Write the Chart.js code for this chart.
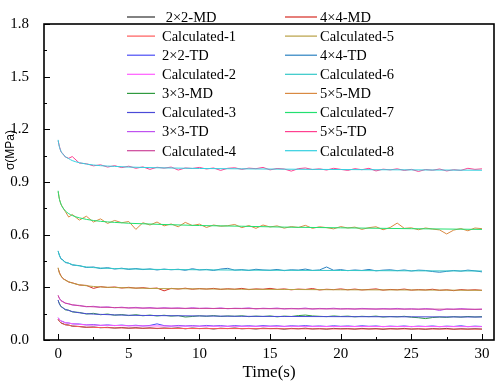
<!DOCTYPE html>
<html>
<head>
<meta charset="utf-8">
<script src="https://cdn.jsdelivr.net/npm/chart.js@4.4.0/dist/chart.umd.min.js"></script>
<style>
html, body { margin: 0; padding: 0; background: #fff; }
</style>
</head>
<body>
<canvas id="relaxChart" width="498" height="383"></canvas>
<script>
// time axis of the measured curves and of the calculated (fitted) curves
const tMeas = [0, 0.1, 0.2, 0.35, 0.5, 0.75, 1, 1.5, 2, 2.5, 3, 3.5, 4, 4.5, 5, 5.5, 6, 6.5, 7, 7.5, 8, 8.5, 9, 9.5, 10, 10.5, 11, 11.5, 12, 12.5, 13, 13.5, 14, 14.5, 15, 15.5, 16, 16.5, 17, 17.5, 18, 18.5, 19, 19.5, 20, 20.5, 21, 21.5, 22, 22.5, 23, 23.5, 24, 24.5, 25, 25.5, 26, 26.5, 27, 27.5, 28, 28.5, 29, 29.5, 30];
const tCalc = [0, 0.05, 0.1, 0.2, 0.3, 0.5, 0.75, 1, 1.5, 2, 3, 4, 5, 7, 10, 13, 16, 20, 25, 30];

const xTicks = [0, 5, 10, 15, 20, 25, 30];
const yTicks = [0.0, 0.3, 0.6, 0.9, 1.2, 1.5, 1.8];

// measured stress (MPa)
const md2 = [0.117, 0.106, 0.097, 0.093, 0.087, 0.085, 0.079, 0.077, 0.072, 0.074, 0.070, 0.072, 0.068, 0.071, 0.067, 0.070, 0.066, 0.069, 0.065, 0.068, 0.066, 0.069, 0.064, 0.068, 0.065, 0.067, 0.063, 0.067, 0.065, 0.068, 0.064, 0.066, 0.063, 0.067, 0.065, 0.066, 0.062, 0.066, 0.064, 0.067, 0.063, 0.065, 0.062, 0.066, 0.064, 0.065, 0.062, 0.066, 0.063, 0.065, 0.061, 0.065, 0.063, 0.066, 0.062, 0.064, 0.061, 0.065, 0.063, 0.066, 0.061, 0.064, 0.062, 0.064, 0.062];
const td2 = [0.126, 0.117, 0.108, 0.105, 0.098, 0.097, 0.092, 0.091, 0.086, 0.088, 0.083, 0.086, 0.082, 0.085, 0.081, 0.084, 0.080, 0.083, 0.092, 0.082, 0.079, 0.083, 0.080, 0.082, 0.079, 0.083, 0.080, 0.082, 0.078, 0.082, 0.079, 0.081, 0.078, 0.082, 0.079, 0.081, 0.077, 0.081, 0.079, 0.082, 0.078, 0.080, 0.077, 0.081, 0.078, 0.080, 0.077, 0.081, 0.078, 0.080, 0.076, 0.079, 0.077, 0.080, 0.076, 0.079, 0.077, 0.080, 0.076, 0.079, 0.077, 0.081, 0.076, 0.079, 0.077];
const md3 = [0.225, 0.206, 0.190, 0.184, 0.172, 0.170, 0.160, 0.157, 0.148, 0.152, 0.144, 0.148, 0.141, 0.145, 0.139, 0.144, 0.138, 0.142, 0.137, 0.141, 0.136, 0.139, 0.131, 0.134, 0.138, 0.135, 0.139, 0.134, 0.137, 0.135, 0.138, 0.133, 0.136, 0.134, 0.137, 0.132, 0.136, 0.134, 0.139, 0.142, 0.137, 0.135, 0.133, 0.137, 0.134, 0.136, 0.132, 0.135, 0.133, 0.136, 0.131, 0.134, 0.132, 0.135, 0.130, 0.127, 0.122, 0.128, 0.131, 0.129, 0.133, 0.130, 0.134, 0.131, 0.133];
const td3 = [0.252, 0.237, 0.224, 0.219, 0.209, 0.207, 0.199, 0.197, 0.189, 0.192, 0.186, 0.189, 0.183, 0.187, 0.182, 0.186, 0.181, 0.185, 0.180, 0.184, 0.181, 0.183, 0.179, 0.184, 0.180, 0.182, 0.179, 0.183, 0.178, 0.181, 0.180, 0.183, 0.177, 0.181, 0.179, 0.182, 0.177, 0.180, 0.178, 0.182, 0.176, 0.180, 0.178, 0.181, 0.177, 0.179, 0.176, 0.180, 0.178, 0.176, 0.179, 0.177, 0.180, 0.176, 0.178, 0.175, 0.179, 0.176, 0.168, 0.177, 0.175, 0.179, 0.176, 0.174, 0.176];
const md4 = [0.408, 0.382, 0.366, 0.349, 0.343, 0.330, 0.326, 0.313, 0.311, 0.294, 0.304, 0.299, 0.302, 0.296, 0.300, 0.295, 0.298, 0.293, 0.296, 0.280, 0.294, 0.290, 0.295, 0.289, 0.293, 0.290, 0.294, 0.288, 0.292, 0.289, 0.294, 0.287, 0.291, 0.289, 0.294, 0.288, 0.291, 0.286, 0.290, 0.288, 0.293, 0.285, 0.289, 0.287, 0.291, 0.286, 0.290, 0.285, 0.288, 0.291, 0.284, 0.288, 0.286, 0.290, 0.284, 0.287, 0.285, 0.289, 0.283, 0.286, 0.281, 0.287, 0.284, 0.286, 0.283];
const td4 = [0.505, 0.482, 0.462, 0.456, 0.441, 0.438, 0.427, 0.424, 0.413, 0.416, 0.407, 0.412, 0.404, 0.409, 0.402, 0.407, 0.401, 0.405, 0.399, 0.404, 0.400, 0.403, 0.397, 0.406, 0.399, 0.402, 0.396, 0.404, 0.408, 0.398, 0.401, 0.396, 0.403, 0.399, 0.397, 0.402, 0.395, 0.400, 0.398, 0.404, 0.396, 0.399, 0.416, 0.397, 0.401, 0.395, 0.399, 0.396, 0.402, 0.394, 0.398, 0.400, 0.395, 0.399, 0.393, 0.398, 0.396, 0.390, 0.386, 0.391, 0.396, 0.392, 0.398, 0.394, 0.388];
const md5 = [0.845, 0.800, 0.772, 0.752, 0.733, 0.700, 0.715, 0.683, 0.705, 0.672, 0.690, 0.664, 0.681, 0.668, 0.675, 0.630, 0.668, 0.655, 0.672, 0.650, 0.661, 0.645, 0.670, 0.652, 0.660, 0.641, 0.655, 0.648, 0.651, 0.658, 0.640, 0.652, 0.636, 0.655, 0.644, 0.650, 0.637, 0.646, 0.641, 0.653, 0.636, 0.645, 0.640, 0.633, 0.646, 0.638, 0.643, 0.630, 0.640, 0.645, 0.628, 0.641, 0.666, 0.636, 0.639, 0.628, 0.638, 0.632, 0.627, 0.604, 0.626, 0.635, 0.622, 0.638, 0.634];
const td5 = [1.135, 1.100, 1.072, 1.060, 1.043, 1.035, 1.045, 1.008, 1.004, 0.992, 0.998, 0.985, 0.993, 0.982, 0.990, 0.978, 0.986, 0.972, 0.984, 0.979, 0.985, 0.968, 0.980, 0.977, 0.983, 0.974, 0.980, 0.966, 0.978, 0.981, 0.972, 0.979, 0.976, 0.983, 0.969, 0.977, 0.974, 0.962, 0.976, 0.980, 0.971, 0.975, 0.968, 0.978, 0.972, 0.966, 0.976, 0.970, 0.978, 0.963, 0.973, 0.969, 0.975, 0.966, 0.972, 0.960, 0.971, 0.967, 0.974, 0.963, 0.970, 0.966, 0.978, 0.972, 0.975];

// calculated stress (MPa)
const calc1 = [0.119, 0.110, 0.105, 0.098, 0.093, 0.088, 0.084, 0.080, 0.076, 0.073, 0.071, 0.069, 0.068, 0.067, 0.065, 0.065, 0.064, 0.063, 0.063, 0.062];
const calc2 = [0.128, 0.120, 0.115, 0.109, 0.105, 0.099, 0.096, 0.093, 0.089, 0.086, 0.084, 0.083, 0.081, 0.080, 0.079, 0.078, 0.078, 0.077, 0.077, 0.076];
const calc3 = [0.228, 0.213, 0.204, 0.192, 0.184, 0.175, 0.168, 0.162, 0.155, 0.150, 0.146, 0.143, 0.141, 0.139, 0.137, 0.135, 0.134, 0.133, 0.132, 0.131];
const calc4 = [0.255, 0.243, 0.235, 0.225, 0.219, 0.211, 0.205, 0.201, 0.195, 0.191, 0.187, 0.185, 0.183, 0.181, 0.180, 0.179, 0.178, 0.177, 0.176, 0.175];
const calc5 = [0.412, 0.393, 0.380, 0.364, 0.354, 0.341, 0.332, 0.324, 0.315, 0.309, 0.302, 0.299, 0.297, 0.293, 0.291, 0.289, 0.288, 0.286, 0.285, 0.283];
const calc6 = [0.508, 0.491, 0.479, 0.465, 0.456, 0.445, 0.437, 0.430, 0.422, 0.416, 0.410, 0.407, 0.405, 0.402, 0.400, 0.398, 0.397, 0.396, 0.394, 0.393];
const calc7 = [0.850, 0.819, 0.799, 0.775, 0.758, 0.736, 0.720, 0.709, 0.696, 0.687, 0.676, 0.670, 0.665, 0.659, 0.652, 0.648, 0.643, 0.639, 0.634, 0.630];
const calc8 = [1.140, 1.114, 1.097, 1.076, 1.062, 1.045, 1.033, 1.022, 1.010, 1.002, 0.993, 0.989, 0.985, 0.981, 0.977, 0.975, 0.973, 0.971, 0.969, 0.967];

// legend order (two columns, read down)
const seriesList = [
    { label: ' 2×2-MD',      t: tMeas, v: md2 },
    { label: 'Calculated-1', t: tCalc, v: calc1 },
    { label: '2×2-TD',       t: tMeas, v: td2 },
    { label: 'Calculated-2', t: tCalc, v: calc2 },
    { label: '3×3-MD',       t: tMeas, v: md3 },
    { label: 'Calculated-3', t: tCalc, v: calc3 },
    { label: '3×3-TD',       t: tMeas, v: td3 },
    { label: 'Calculated-4', t: tCalc, v: calc4 },
    { label: '4×4-MD',       t: tMeas, v: md4 },
    { label: 'Calculated-5', t: tCalc, v: calc5 },
    { label: '4×4-TD',       t: tMeas, v: td4 },
    { label: 'Calculated-6', t: tCalc, v: calc6 },
    { label: '5×5-MD',       t: tMeas, v: md5 },
    { label: 'Calculated-7', t: tCalc, v: calc7 },
    { label: '5×5-TD',       t: tMeas, v: td5 },
    { label: 'Calculated-8', t: tCalc, v: calc8 }
];
const colors = [
    '#303030', '#ff5a5a', '#4a4cf5', '#ff5cff',
    '#2f9a3f', '#4a4ad8', '#bf52f0', '#cc4499',
    '#d62a22', '#b8a044', '#2a80c0', '#33c8c8',
    '#d98a42', '#22e070', '#ff4090', '#33d0e0'
];

const serif = '"Liberation Serif", "Times New Roman", serif';

const axisExtras = {
    id: 'axisExtras',
    afterDraw(chart) {
        const { ctx, chartArea: a, scales: { x, y } } = chart;
        ctx.save();
        // frame
        ctx.strokeStyle = '#000';
        ctx.lineWidth = 1.6;
        ctx.strokeRect(a.left, a.top, a.right - a.left, a.bottom - a.top);
        // inward ticks, major + minor
        ctx.lineWidth = 1;
        ctx.beginPath();
        xTicks.forEach((v, i) => {
            const px = Math.round(x.getPixelForValue(v)) + 0.5;
            ctx.moveTo(px, a.bottom); ctx.lineTo(px, a.bottom - 6);
            if (i < xTicks.length - 1) {
                const m = Math.round(x.getPixelForValue((v + xTicks[i + 1]) / 2)) + 0.5;
                ctx.moveTo(m, a.bottom); ctx.lineTo(m, a.bottom - 3);
            }
        });
        yTicks.forEach((v, i) => {
            const py = Math.round(y.getPixelForValue(v)) + 0.5;
            ctx.moveTo(a.left, py); ctx.lineTo(a.left + 6, py);
            if (i < yTicks.length - 1) {
                const m = Math.round(y.getPixelForValue((v + yTicks[i + 1]) / 2)) + 0.5;
                ctx.moveTo(a.left, m); ctx.lineTo(a.left + 3, m);
            }
        });
        ctx.stroke();

        // y title, sitting between the 1.2 and 0.9 labels
        ctx.fillStyle = '#000';
        ctx.font = '12px "Liberation Sans", Arial, sans-serif';
        ctx.textAlign = 'center';
        ctx.textBaseline = 'middle';
        ctx.translate(11, 150);
        ctx.rotate(-Math.PI / 2);
        ctx.fillText('σ(MPa)', 0, 0);
        ctx.restore();

        // legend
        ctx.save();
        ctx.font = '14.5px ' + serif;
        ctx.textBaseline = 'middle';
        ctx.textAlign = 'left';
        ctx.fillStyle = '#000';
        seriesList.forEach((s, i) => {
            const col = Math.floor(i / 8);
            const row = i % 8;
            const yy = 17 + row * 19.1;
            const x0 = col === 0 ? 127 : 285;
            const x1 = col === 0 ? 155 : 317;
            const tx = col === 0 ? 162 : 320;
            ctx.strokeStyle = colors[i];
            ctx.lineWidth = 1.2;
            ctx.beginPath();
            ctx.moveTo(x0, yy); ctx.lineTo(x1, yy);
            ctx.stroke();
            ctx.fillText(s.label, tx, yy + 1);
        });
        ctx.restore();
    }
};

const ctx = document.getElementById('relaxChart').getContext('2d');

const relaxChart = new Chart(ctx, {
    type: 'line',
    data: {
        datasets: seriesList.map((s, i) => ({
            label: s.label.trim(),
            data: s.t.map((t, k) => ({ x: t, y: s.v[k] })),
            borderColor: colors[i],
            backgroundColor: colors[i],
            borderWidth: 1,
            pointRadius: 0,
            fill: false,
            cubicInterpolationMode: s.t === tCalc ? 'monotone' : 'default',
            order: seriesList.length - i
        }))
    },
    options: {
        responsive: false,
        devicePixelRatio: 1,
        animation: false,
        layout: { padding: { top: 8, right: 4, left: 0, bottom: 0 } },
        plugins: {
            legend: { display: false },
            tooltip: { enabled: false }
        },
        scales: {
            x: {
                type: 'linear',
                min: -1,
                max: 30.85,
                afterFit: s => { s.height = 43; },
                afterBuildTicks: s => { s.ticks = xTicks.map(v => ({ value: v })); },
                grid: { display: false, drawTicks: false },
                border: { display: false },
                ticks: {
                    color: '#000',
                    font: { family: serif, size: 15 },
                    padding: 5,
                    maxRotation: 0,
                    callback: v => String(v)
                },
                title: {
                    display: true,
                    text: 'Time(s)',
                    color: '#000',
                    font: { family: serif, size: 17 },
                    padding: { top: 0, bottom: 0 }
                }
            },
            y: {
                type: 'linear',
                min: 0,
                max: 1.8,
                afterFit: s => { s.width = 44; },
                afterBuildTicks: s => { s.ticks = yTicks.map(v => ({ value: v })); },
                grid: { display: false, drawTicks: false },
                border: { display: false },
                ticks: {
                    color: '#000',
                    font: { family: serif, size: 15 },
                    padding: 15,
                    callback: v => Number(v).toFixed(1)
                }
            }
        }
    },
    plugins: [axisExtras]
});
</script>
</body>
</html>
